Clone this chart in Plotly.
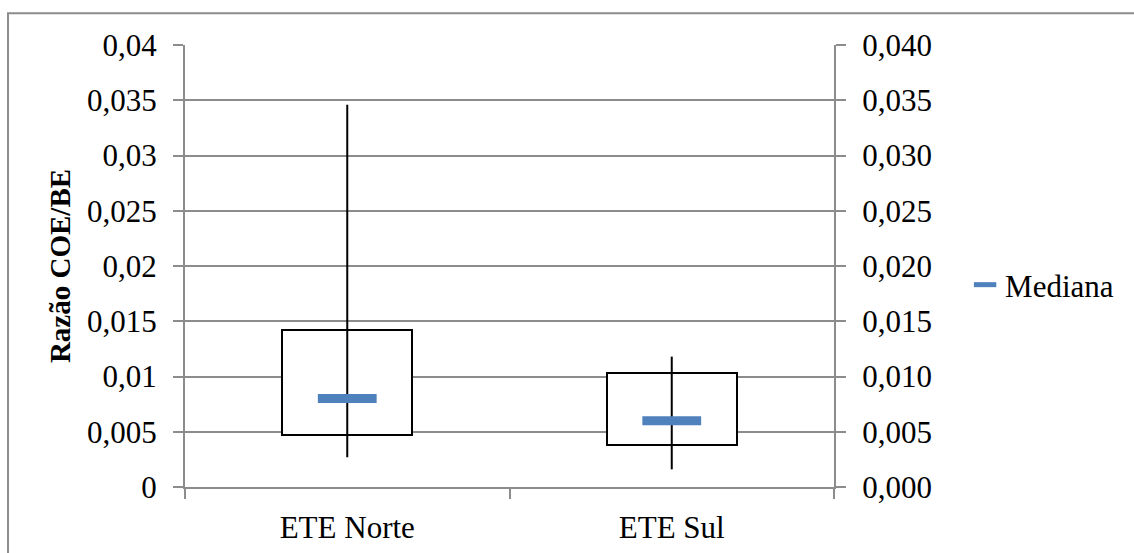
import plotly.graph_objects as go

categories = ["ETE Norte", "ETE Sul"]
maximo = [0.0346, 0.0118]
q3 = [0.0142, 0.0103]
mediana = [0.0080, 0.0060]
q1 = [0.0047, 0.0038]
minimo = [0.0027, 0.0016]

left_ticks = [0, 0.005, 0.01, 0.015, 0.02, 0.025, 0.03, 0.035, 0.04]
left_labels = ["0", "0,005", "0,01", "0,015", "0,02", "0,025", "0,03", "0,035", "0,04"]
right_labels = ["0,000", "0,005", "0,010", "0,015", "0,020", "0,025", "0,030", "0,035", "0,040"]

FONT = "Liberation Serif"
FS = 31
GRID = "#8c8c8c"

fig = go.Figure()

# boxes (q1 -> q3)
fig.add_trace(go.Bar(
    x=categories, y=[b - a for a, b in zip(q1, q3)], base=q1, width=0.4,
    marker=dict(color="white", line=dict(color="black", width=2)),
    showlegend=False, hoverinfo="skip"))

# whiskers (min -> max)
wx, wy = [], []
for c, lo, hi in zip(categories, minimo, maximo):
    wx += [c, c, None]
    wy += [lo, hi, None]
fig.add_trace(go.Scatter(x=wx, y=wy, mode="lines", line=dict(color="black", width=2),
                         showlegend=False, hoverinfo="skip"))

# median
fig.add_trace(go.Scatter(
    x=categories, y=mediana, mode="markers", name="Mediana",
    marker=dict(symbol="line-ew", size=42, color="#4F81BD",
                line=dict(color="#4F81BD", width=9))))

# dummy trace for right axis
fig.add_trace(go.Scatter(x=categories, y=mediana, yaxis="y2", mode="markers",
                         marker=dict(opacity=0), showlegend=False, hoverinfo="skip"))

fig.update_layout(
    width=1134, height=553,
    margin=dict(l=185, r=300, t=44.7, b=65.6, autoexpand=False),
    paper_bgcolor="white", plot_bgcolor="white",
    font=dict(family=FONT, size=FS, color="black"),
    bargap=0,
    xaxis=dict(type="category", range=[-0.5, 1.5], tickson="boundaries",
               ticks="outside", ticklen=10, tickcolor=GRID, tickwidth=2,
               showline=True, linecolor=GRID, linewidth=2, showgrid=False,
               ticklabelstandoff=12, automargin=False,
               tickfont=dict(family=FONT, size=FS, color="black")),
    yaxis=dict(range=[0, 0.04], tickvals=left_ticks, ticktext=left_labels,
               ticks="outside", ticklen=10, tickcolor=GRID, tickwidth=2,
               showline=True, linecolor=GRID, linewidth=2,
               showgrid=True, gridcolor=GRID, gridwidth=2, zeroline=False,
               ticklabelstandoff=10, automargin=False,
               tickfont=dict(family=FONT, size=FS, color="black"),
               title=dict(text="<b>Razão COE/BE</b>", standoff=8,
                          font=dict(family=FONT, size=29, color="black"))),
    yaxis2=dict(range=[0, 0.04], tickvals=left_ticks, ticktext=right_labels,
                overlaying="y", side="right",
                ticks="outside", ticklen=10, tickcolor=GRID, tickwidth=2,
                showline=True, linecolor=GRID, linewidth=2, showgrid=False,
                zeroline=False, ticklabelstandoff=10, automargin=False,
                tickfont=dict(family=FONT, size=FS, color="black")),
    legend=dict(x=1.202, y=0.457, xanchor="left", yanchor="middle",
                font=dict(family=FONT, size=FS, color="black"),
                bgcolor="rgba(0,0,0,0)"),
    shapes=[dict(type="rect", xref="paper", yref="paper",
                 x0=-0.2727, x1=1.48, y0=-0.2, y1=1.0716,
                 line=dict(color="#8c8c8c", width=2), layer="below")],
)

fig.write_html("out.html")
